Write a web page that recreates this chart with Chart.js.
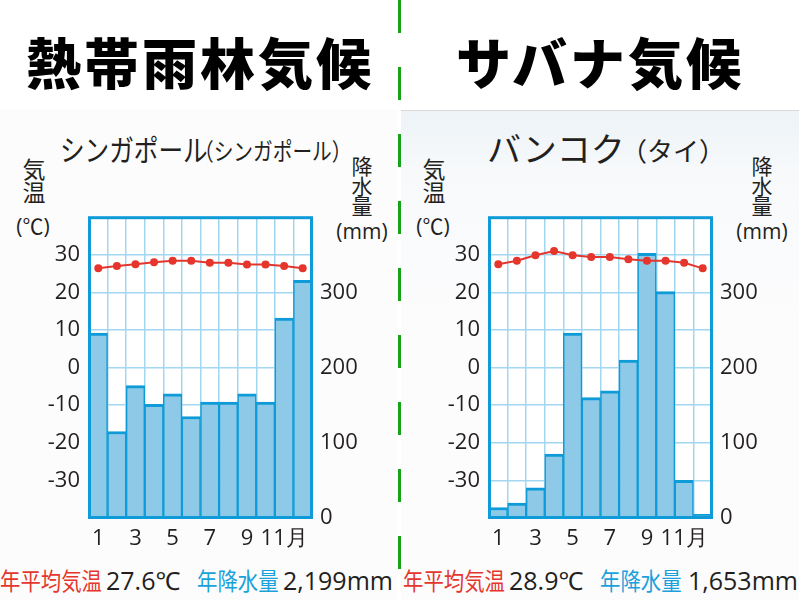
<!DOCTYPE html>
<html><head><meta charset="utf-8">
<script src="https://cdn.jsdelivr.net/npm/chart.js@4"></script>
<style>
html,body{margin:0;padding:0;width:800px;height:600px;background:#fff;overflow:hidden;font-family:'Noto Sans CJK JP','Noto Sans',sans-serif;color:#231f20}
.abs{position:absolute;white-space:nowrap}
.head{top:20px;width:400px;text-align:center;font-size:55px;font-weight:900;letter-spacing:3px;line-height:80px;color:#000}
.panel{position:absolute;top:110px;height:490px;width:398px}
.sx{transform-origin:0 50%}
.vert{position:absolute;width:40px;text-align:center;line-height:23px;font-size:23px}
.unit{position:absolute;width:70px;text-align:center;font-size:21px;line-height:24px;font-family:'Open Sans','Noto Sans CJK JP',sans-serif}
.cv{position:absolute;top:195px;width:400px;height:365px}
.bt{position:absolute;top:562px;line-height:36px;font-size:24px;transform-origin:0 50%;transform:scaleX(0.85)}
.red{color:#e5362d}.blue{color:#1aa1da}
.num{position:absolute;top:562px;line-height:36px;font-family:'Open Sans','Noto Sans',sans-serif;font-size:25px}
</style></head>
<body>
<div class="panel" style="left:0;background:#fcfcfc"></div>
<div class="panel" style="left:401px;background:linear-gradient(#edf3f7 0px,#f7f9fb 60px,#fcfcfd 200px);border-top:1px solid #d9d9d9"></div>
<div id="divider" class="abs" style="left:398px;top:0;width:3px;height:600px;background:repeating-linear-gradient(to bottom,#17a317 0px,#17a317 33px,transparent 33px,transparent 67px)"></div>

<div class="abs head" style="left:0">熱帯雨林気候</div>
<div class="abs head" style="left:400px">サバナ気候</div>

<div class="abs sx" style="left:60px;top:128px;font-size:30px;line-height:40px;transform:scaleX(0.82)">シンガポール</div>
<div class="abs sx" style="left:194px;top:130px;font-size:24px;line-height:40px;transform:scaleX(0.82)">（シンガポール）</div>
<div class="abs" style="left:487px;top:128px;font-size:34px;line-height:40px">バンコク</div>
<div class="abs" style="left:621px;top:130px;font-size:26px;line-height:40px">（タイ）</div>

<div class="vert" style="left:14px;top:157px">気<br>温</div>
<div class="unit" style="left:-2px;top:214px">(℃)</div>
<div class="vert" style="left:342px;top:155px;font-size:21px;line-height:20px">降<br>水<br>量</div>
<div class="unit" style="left:327px;top:219px">(mm)</div>

<div class="vert" style="left:414px;top:157px">気<br>温</div>
<div class="unit" style="left:398px;top:214px">(℃)</div>
<div class="vert" style="left:742px;top:155px;font-size:21px;line-height:20px">降<br>水<br>量</div>
<div class="unit" style="left:727px;top:219px">(mm)</div>

<div class="cv" style="left:0"><canvas id="c1"></canvas></div>
<div class="cv" style="left:400px"><canvas id="c2"></canvas></div>

<div class="bt red" style="left:0">年平均気温</div>
<div class="num" style="left:106px">27.6℃</div>
<div class="bt blue" style="left:197px">年降水量</div>
<div class="num" style="left:283px">2,199mm</div>

<div class="bt red" style="left:403px">年平均気温</div>
<div class="num" style="left:509px">28.9℃</div>
<div class="bt blue" style="left:600px">年降水量</div>
<div class="num" style="left:688px">1,653mm</div>

<script>
const months = ['1','2','3','4','5','6','7','8','9','10','11','12'];
const monthTickLabels = ['1','','3','','5','','7','','9','','11月',''];
const tempTicks = [-30,-20,-10,0,10,20,30];
const precipTicks = [0,100,200,300];

const singaporeTemp = [26.4,27.0,27.5,28.0,28.4,28.4,27.9,27.9,27.4,27.4,27.0,26.4];
const singaporePrecip = [246,115,176,151,165,135,154,154,165,154,266,316];
const bangkokTemp = [27.5,28.4,29.9,31.0,29.9,29.4,29.4,28.8,28.4,28.4,27.9,26.4];
const bangkokPrecip = [14,20,40,85,246,160,169,210,352,301,50,5];

const FRAME = '#0e9bd7';
const GRID = '#a3d6f0';
const TXT = '#231f20';
const tickFont = {family:"'Open Sans','Noto Sans',sans-serif", size:22};

const framePlugin = {
  id:'frame',
  beforeDraw(chart){
    const a = chart.chartArea, c = chart.ctx;
    c.save(); c.fillStyle = '#ffffff'; c.fillRect(a.left,a.top,a.right-a.left,a.bottom-a.top); c.restore();
  },
  afterDatasetsDraw(chart){
    const a = chart.chartArea, c = chart.ctx;
    c.save(); c.strokeStyle = FRAME; c.lineWidth = 3;
    c.strokeRect(a.left+0.5,a.top+0.5,a.right-a.left-1,a.bottom-a.top-1);
    c.restore();
  }
};

function makeChart(id, temp, precip){
  return new Chart(document.getElementById(id), {
    data:{
      labels: months,
      datasets:[
        {type:'line', data:temp, yAxisID:'y', order:0, borderColor:'#e5362d', backgroundColor:'#e5362d',
         borderWidth:2, pointRadius:3, pointHoverRadius:3, tension:0},
        {type:'bar', data:precip, yAxisID:'y2', order:1, backgroundColor:'#8ecae8', borderColor:FRAME,
         borderWidth:{top:3,left:1.5,right:1.5,bottom:0}, borderSkipped:false, barPercentage:1, categoryPercentage:1}
      ]
    },
    options:{
      responsive:true, maintainAspectRatio:false, animation:false,
      layout:{padding:{top:20,left:0,right:0,bottom:0}},
      plugins:{legend:{display:false}, tooltip:{enabled:false}},
      scales:{
        x:{offset:true, grid:{offset:true, color:GRID, lineWidth:1.5, drawTicks:false}, border:{display:false},
           ticks:{autoSkip:false, maxRotation:0, padding:8, color:TXT, font:tickFont,
                  callback:(v,i)=>monthTickLabels[i]},
           afterFit:(s)=>{s.height=42;}},
        y:{position:'left', min:-40, max:40, grid:{color:GRID, lineWidth:1.5, drawTicks:false}, border:{display:false},
           ticks:{stepSize:10, padding:9, color:TXT, font:tickFont,
                  callback:(v)=> tempTicks.includes(v) ? String(v) : null},
           afterFit:(s)=>{s.width=89;}},
        y2:{position:'right', min:0, max:400, grid:{display:false, drawTicks:false}, border:{display:false},
           ticks:{stepSize:100, padding:8, color:TXT, font:tickFont,
                  callback:(v)=> precipTicks.includes(v) ? String(v) : null},
           afterFit:(s)=>{s.width=88;}}
      }
    },
    plugins:[framePlugin]
  });
}
makeChart('c1', singaporeTemp, singaporePrecip);
makeChart('c2', bangkokTemp, bangkokPrecip);
</script>
</body></html>
